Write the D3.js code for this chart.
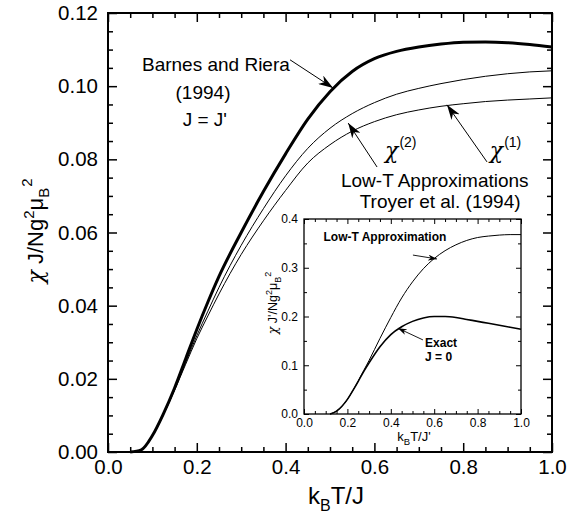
<!DOCTYPE html>
<html><head><meta charset="utf-8">
<script src="https://cdn.jsdelivr.net/npm/d3@7"></script>
<style>
html,body{margin:0;padding:0;background:#fff;}
text{font-family:"Liberation Sans",Arial,Helvetica,sans-serif;fill:#000;}
.chi{font-family:"DejaVu Serif","Liberation Serif",serif;font-style:italic;}
</style></head>
<body>
<svg id="chart" width="568" height="518"></svg>
<script>
// ---------- data ----------
const tGrid = [0.05,0.075,0.1,0.125,0.15,0.175,0.2,0.225,0.25,0.3,0.35,0.4,0.45,0.5,0.55,0.6,0.65,0.7,0.75,0.8,0.85,0.9,0.95,1.0];
const barnesRiera = [0,0.0006,0.0045,0.0105,0.0175,0.0255,0.0335,0.041,0.048,0.060,0.0712,0.0815,0.091,0.0985,0.1040,0.1075,0.1095,0.1107,0.1115,0.1120,0.1121,0.1119,0.1114,0.1107];
const chi2 = [0,0.0006,0.0044,0.0103,0.0171,0.0245,0.0318,0.0385,0.045,0.0565,0.0665,0.0755,0.0830,0.0885,0.0925,0.0955,0.0978,0.0994,0.1007,0.1018,0.1027,0.1034,0.1039,0.1042];
const chi1 = [0,0.0006,0.0044,0.0102,0.0169,0.0240,0.0310,0.0372,0.0432,0.0540,0.0632,0.0715,0.0790,0.0840,0.0877,0.0903,0.0922,0.0935,0.0945,0.0952,0.0958,0.0962,0.0965,0.0968];

const insetT = [0.12,0.15,0.175,0.2,0.225,0.25,0.275,0.3,0.35,0.4,0.45,0.5,0.55,0.6,0.65,0.7,0.75,0.8,0.85,0.9,0.95,1.0];
const lowTApprox = [0,0.006,0.016,0.03,0.048,0.068,0.089,0.11,0.155,0.198,0.238,0.271,0.298,0.319,0.335,0.347,0.356,0.362,0.365,0.367,0.368,0.368];
const exactJ0 = [0,0.006,0.016,0.03,0.048,0.067,0.087,0.105,0.138,0.163,0.179,0.190,0.197,0.200,0.200,0.198,0.194,0.190,0.186,0.182,0.178,0.174];

const mainXTicks = [0,0.2,0.4,0.6,0.8,1.0];
const mainYTicks = [0,0.02,0.04,0.06,0.08,0.10,0.12];
const insetXTicks = [0,0.2,0.4,0.6,0.8,1.0];
const insetYTicks = [0,0.1,0.2,0.3,0.4];

// ---------- layout ----------
const svg = d3.select("#chart");
const M = {l:108, r:552, t:13, b:452};
const x = d3.scaleLinear().domain([0,1]).range([M.l,M.r]);
const y = d3.scaleLinear().domain([0,0.12]).range([M.b,M.t]);
const I = {l:304, r:521, t:219, b:414};
const xi = d3.scaleLinear().domain([0,1]).range([I.l,I.r]);
const yi = d3.scaleLinear().domain([0,0.4]).range([I.b,I.t]);

function minorTicks(lo,hi,step,majors){
  const out=[];
  for(let v=lo; v<=hi+1e-9; v+=step){
    const r=Math.round(v*1e6)/1e6;
    if(!majors.some(m=>Math.abs(m-r)<1e-9)) out.push(r);
  }
  return out;
}

function frame(g, xs, ys, box, majX, majY, minX, minY, opts){
  const {majLen, minLen, fs, padX, padY, fmtX, fmtY, sw} = opts;
  const mk = (axisFn, scale, vals, len, fmt, pad, tr) => {
    const a = axisFn(scale).tickValues(vals).tickSize(-len).tickPadding(pad).tickFormat(fmt||"");
    const gg = g.append("g").attr("transform",tr).call(a);
    gg.select(".domain").remove();
    gg.selectAll("line").attr("stroke","#000").attr("stroke-width",sw);
    gg.selectAll("text").attr("font-size",fs).attr("font-family","Liberation Sans, Arial, sans-serif").attr("fill","#000");
    return gg;
  };
  mk(d3.axisBottom, xs, majX, majLen, d3.format(fmtX), padX, `translate(0,${box.b})`);
  mk(d3.axisBottom, xs, minX, minLen, null, 0, `translate(0,${box.b})`);
  mk(d3.axisTop, xs, majX, majLen, null, 0, `translate(0,${box.t})`);
  mk(d3.axisTop, xs, minX, minLen, null, 0, `translate(0,${box.t})`);
  mk(d3.axisLeft, ys, majY, majLen, d3.format(fmtY), padY, `translate(${box.l},0)`);
  mk(d3.axisLeft, ys, minY, minLen, null, 0, `translate(${box.l},0)`);
  mk(d3.axisRight, ys, majY, majLen, null, 0, `translate(${box.r},0)`);
  mk(d3.axisRight, ys, minY, minLen, null, 0, `translate(${box.r},0)`);
  g.append("rect").attr("x",box.l).attr("y",box.t).attr("width",box.r-box.l).attr("height",box.b-box.t)
    .attr("fill","none").attr("stroke","#000").attr("stroke-width",opts.frameW);
}

const defs = svg.append("defs");
function marker(id, w, h){
  defs.append("marker").attr("id",id).attr("viewBox",`0 0 ${w} ${h}`).attr("refX",w).attr("refY",h/2)
    .attr("markerWidth",w).attr("markerHeight",h).attr("markerUnits","userSpaceOnUse").attr("orient","auto")
    .append("path").attr("d",`M0,0 L${w},${h/2} L0,${h} L${w*0.3},${h/2} Z`).attr("fill","#000");
}
marker("arrowBig",15,10);
marker("arrowSmall",9,6);

// ---------- main plot ----------
const gMain = svg.append("g");
frame(gMain, x, y, M, mainXTicks, mainYTicks,
  minorTicks(0,1,0.05,mainXTicks), minorTicks(0,0.12,0.005,mainYTicks),
  {majLen:9, minLen:5, fs:20.5, padX:7, padY:10, fmtX:".1f", fmtY:".2f", sw:1.5, frameW:2});

const line = (xs,ys) => d3.line().x(d=>xs(d[0])).y(d=>ys(d[1])).curve(d3.curveMonotoneX);
const ser = (xv, yv) => xv.map((v,i)=>[v,yv[i]]);
gMain.append("path").datum(ser(tGrid,chi1)).attr("d",line(x,y)).attr("fill","none").attr("stroke","#000").attr("stroke-width",1);
gMain.append("path").datum(ser(tGrid,chi2)).attr("d",line(x,y)).attr("fill","none").attr("stroke","#000").attr("stroke-width",1);
gMain.append("path").datum(ser(tGrid,barnesRiera)).attr("d",line(x,y)).attr("fill","none").attr("stroke","#000").attr("stroke-width",3);

// main axis labels
const xl = svg.append("text").attr("x",336).attr("y",504).attr("text-anchor","middle").attr("font-size",24);
xl.append("tspan").text("k");
xl.append("tspan").attr("dy",7).attr("font-size",16).text("B");
xl.append("tspan").attr("dy",-7).text("T/J");

const yl = svg.append("text").attr("transform","translate(43,231) rotate(-90)").attr("text-anchor","middle").attr("font-size",22);
yl.append("tspan").attr("class","chi").text("χ");
yl.append("tspan").text(" J/Ng");
yl.append("tspan").attr("dy",-9).attr("font-size",15).text("2");
yl.append("tspan").attr("dy",9).text("μ");
yl.append("tspan").attr("dy",6).attr("font-size",15).text("B");
yl.append("tspan").attr("dy",-17).attr("dx",1).attr("font-size",15).text("2");

// main annotations (data coordinates)
const mainTexts = [
  {t:"Barnes and Riera", x:0.243, y:0.1042},
  {t:"(1994)", x:0.214, y:0.0965},
  {t:"J = J'", x:0.218, y:0.0891},
  {t:"Low-T Approximations", x:0.736, y:0.0724},
  {t:"Troyer et al. (1994)", x:0.748, y:0.0667}
];
mainTexts.forEach(d=>svg.append("text").attr("x",x(d.x)).attr("y",y(d.y)).attr("text-anchor","middle").attr("font-size",19).text(d.t));

const chiLabels = [{sup:"(2)", x:0.624, y:0.0804},{sup:"(1)", x:0.860, y:0.0804}];
chiLabels.forEach(d=>{
  const t = svg.append("text").attr("x",x(d.x)).attr("y",y(d.y)).attr("font-size",22);
  t.append("tspan").attr("class","chi").text("χ");
  t.append("tspan").attr("dy",-11).attr("dx",1).attr("font-size",14).text(d.sup);
});

const mainArrows = [
  {x1:0.410,y1:0.1072,x2:0.507,y2:0.0995},
  {x1:0.606,y1:0.0779,x2:0.541,y2:0.0899},
  {x1:0.8536,y1:0.0793,x2:0.7635,y2:0.0949}
];
mainArrows.forEach(d=>svg.append("line").attr("x1",x(d.x1)).attr("y1",y(d.y1)).attr("x2",x(d.x2)).attr("y2",y(d.y2))
  .attr("stroke","#000").attr("stroke-width",1).attr("marker-end","url(#arrowBig)"));

// ---------- inset ----------
const gIn = svg.append("g");
gIn.append("rect").attr("x",I.l).attr("y",I.t).attr("width",I.r-I.l).attr("height",I.b-I.t).attr("fill","#fff");
frame(gIn, xi, yi, I, insetXTicks, insetYTicks,
  minorTicks(0,1,0.05,insetXTicks), minorTicks(0,0.4,0.05,insetYTicks),
  {majLen:5, minLen:3, fs:12, padX:4, padY:6, fmtX:".1f", fmtY:".1f", sw:1, frameW:1.3});

gIn.append("path").datum(ser(insetT,lowTApprox)).attr("d",line(xi,yi)).attr("fill","none").attr("stroke","#000").attr("stroke-width",1);
gIn.append("path").datum(ser(insetT,exactJ0)).attr("d",line(xi,yi)).attr("fill","none").attr("stroke","#000").attr("stroke-width",1.6);

const ixl = svg.append("text").attr("x",414).attr("y",441).attr("text-anchor","middle").attr("font-size",13);
ixl.append("tspan").text("k");
ixl.append("tspan").attr("dy",4).attr("font-size",9.5).text("B");
ixl.append("tspan").attr("dy",-4).text("T/J'");

const iyl = svg.append("text").attr("transform","translate(277,303) rotate(-90)").attr("text-anchor","middle").attr("font-size",12.5);
iyl.append("tspan").attr("class","chi").text("χ");
iyl.append("tspan").text(" J'/Ng");
iyl.append("tspan").attr("dy",-5).attr("font-size",9).text("2");
iyl.append("tspan").attr("dy",5).text("μ");
iyl.append("tspan").attr("dy",4).attr("font-size",9).text("B");
iyl.append("tspan").attr("dy",-10).attr("font-size",9).text("2");

const insetTexts = [
  {t:"Low-T Approximation", x:0.373, y:0.355, a:"middle"},
  {t:"Exact", x:0.558, y:0.137, a:"start"},
  {t:"J = 0", x:0.558, y:0.109, a:"start"}
];
insetTexts.forEach(d=>svg.append("text").attr("x",xi(d.x)).attr("y",yi(d.y)).attr("text-anchor",d.a).attr("font-size",12).attr("font-weight","bold").text(d.t));

const insetArrows = [
  {x1:0.502,y1:0.326,x2:0.613,y2:0.318},
  {x1:0.548,y1:0.152,x2:0.433,y2:0.176}
];
insetArrows.forEach(d=>svg.append("line").attr("x1",xi(d.x1)).attr("y1",yi(d.y1)).attr("x2",xi(d.x2)).attr("y2",yi(d.y2))
  .attr("stroke","#000").attr("stroke-width",0.9).attr("marker-end","url(#arrowSmall)"));
</script>
</body></html>
